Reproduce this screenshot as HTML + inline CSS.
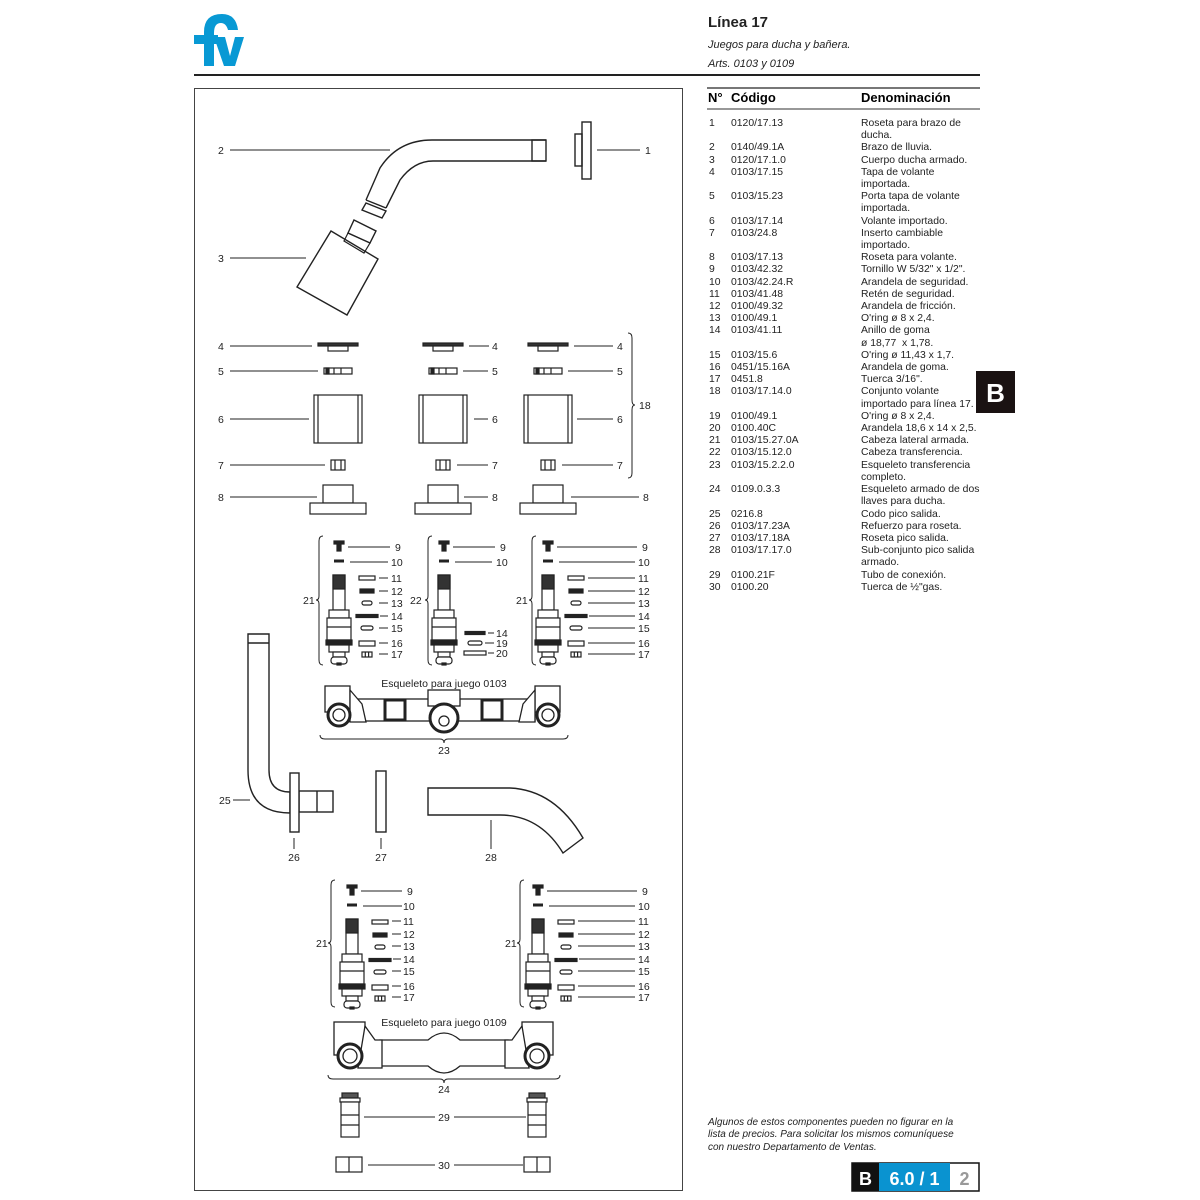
<!DOCTYPE html>
<html><head><meta charset="utf-8"><style>
html,body{margin:0;padding:0;background:#fff}
body{width:1200px;height:1200px;position:relative;overflow:hidden;font-family:"Liberation Sans",sans-serif;color:#222}
.col{position:absolute;top:118px;font-size:10.4px;line-height:12.2px;white-space:pre}
</style></head><body>
<svg width="1200" height="1200" style="position:absolute;left:0;top:0" font-family="Liberation Sans, sans-serif">
<defs>
<g id="valve" stroke="#222" stroke-width="1.2" fill="#fff">
<rect x="-5" y="-6" width="10" height="3" fill="#222"/>
<rect x="-2" y="-3" width="4" height="7" fill="#222"/>
<rect x="-5" y="12.5" width="10" height="3" fill="#222" stroke="none"/>
<rect x="-6" y="28" width="12" height="35"/>
<rect x="-6" y="28" width="12" height="14" fill="#333"/>
<rect x="-10" y="63" width="20" height="8"/>
<rect x="-12" y="71" width="24" height="22"/>
<line x1="-12" y1="80" x2="12" y2="80"/>
<rect x="-13" y="93" width="26" height="5" fill="#222"/>
<rect x="-10" y="98" width="20" height="7"/>
<rect x="-6" y="105" width="12" height="5"/>
<rect x="-8" y="110" width="16" height="7" rx="3"/>
<rect x="-2" y="116" width="4" height="2" fill="#222"/>
</g>
<g id="rings" stroke="#222" stroke-width="1.2" fill="#fff">
<rect x="20" y="29" width="16" height="4"/>
<rect x="21" y="42" width="14" height="4" fill="#222"/>
<rect x="23" y="54" width="10" height="4" rx="2"/>
<rect x="17" y="67.5" width="22" height="3" fill="#222"/>
<rect x="22" y="79" width="12" height="4" rx="2"/>
<rect x="20" y="94" width="16" height="5"/>
<rect x="23" y="105" width="10" height="5"/>
<line x1="26.3" y1="105" x2="26.3" y2="110"/><line x1="29.6" y1="105" x2="29.6" y2="110"/>
</g>
<g id="vol" stroke="#222" stroke-width="1.2" fill="#fff">
<rect x="-20" y="-3" width="40" height="3" fill="#333"/>
<rect x="-10" y="0" width="20" height="5"/>
<rect x="-14" y="22" width="28" height="6"/>
<rect x="-12" y="22" width="3" height="6" fill="#222"/>
<line x1="-4" y1="22" x2="-4" y2="28"/><line x1="3" y1="22" x2="3" y2="28"/>
<rect x="-24" y="49" width="48" height="48"/>
<line x1="-20" y1="49" x2="-20" y2="97"/><line x1="20" y1="49" x2="20" y2="97"/>
<rect x="-7" y="114" width="14" height="10"/>
<line x1="-3" y1="114" x2="-3" y2="124"/><line x1="3" y1="114" x2="3" y2="124"/>
<rect x="-15" y="139" width="30" height="18"/>
<rect x="-28" y="157" width="56" height="11"/>
</g>
<g id="c29" stroke="#222" stroke-width="1.2" fill="#fff">
<rect x="-8" y="0" width="16" height="5" fill="#555"/>
<rect x="-10" y="5" width="20" height="4"/>
<rect x="-9" y="9" width="18" height="35"/>
<line x1="-9" y1="22" x2="9" y2="22"/><line x1="-9" y1="32" x2="9" y2="32"/>
</g>
<g id="c30" stroke="#222" stroke-width="1.2" fill="#fff">
<rect x="-13" y="0" width="26" height="15"/>
<line x1="0" y1="0" x2="0" y2="15"/>
</g>
</defs>

<!-- logo -->
<g fill="#0899d4">
<path d="M204,66 L204,32 Q204,14 222,14 Q236,14 238,30 L228,30 Q226,23 221,23 Q214,23 214,33 L214,66 Z"/>
<rect x="194" y="35" width="24" height="9"/>
<path d="M214,37 L225,37 L230,56 L235,37 L244,37 L235,66 L224,66 Z"/>
</g>
<line x1="194" y1="75" x2="980" y2="75" stroke="#222" stroke-width="2"/>
<text x="708" y="27" font-size="15" font-weight="bold" fill="#222">Línea 17</text>
<text x="708" y="48" font-size="11" font-style="italic" fill="#222">Juegos para ducha y bañera.</text>
<text x="708" y="67" font-size="11" font-style="italic" fill="#222">Arts. 0103 y 0109</text>

<rect x="194.5" y="88.5" width="488" height="1102" fill="none" stroke="#444" stroke-width="1"/>

<line x1="707" y1="88" x2="980" y2="88" stroke="#777" stroke-width="2"/>
<line x1="707" y1="109" x2="980" y2="109" stroke="#777" stroke-width="1.5"/>
<text x="708" y="102" font-size="13" font-weight="bold">N°</text>
<text x="731" y="102" font-size="13" font-weight="bold">Código</text>
<text x="861" y="102" font-size="13" font-weight="bold">Denominación</text>

<rect x="976" y="371" width="39" height="42" fill="#1a1212"/>
<text x="995.5" y="402" font-size="26" font-weight="bold" fill="#fff" text-anchor="middle">B</text>

<text font-size="10" font-style="italic" fill="#222">
<tspan x="708" y="1125">Algunos de estos componentes pueden no figurar en la</tspan>
<tspan x="708" y="1137">lista de precios. Para solicitar los mismos comuníquese</tspan>
<tspan x="708" y="1150">con nuestro Departamento de Ventas.</tspan></text>
<rect x="852" y="1163" width="127" height="28" fill="#fff" stroke="#111" stroke-width="1.5"/>
<rect x="852" y="1163" width="27" height="28" fill="#111"/>
<rect x="879" y="1163" width="71" height="28" fill="#0a93d0"/>
<text x="865.5" y="1185" font-size="18" font-weight="bold" fill="#fff" text-anchor="middle">B</text>
<text x="914.5" y="1185" font-size="18" font-weight="bold" fill="#fff" text-anchor="middle">6.0 / 1</text>
<text x="964.5" y="1185" font-size="18" font-weight="bold" fill="#999" text-anchor="middle">2</text>

<g stroke="#222" stroke-width="1" fill="none">
<line x1="230" y1="150" x2="390" y2="150"/>
<path d="M546,140 L432,140 Q398,140 380,168 L366,200 M546,161 L433,161 Q414,161 400,180 L386,208" stroke-width="1.4"/>
<line x1="366" y1="200" x2="386" y2="208" stroke-width="1.4"/>
<rect x="532" y="140" width="14" height="21" stroke-width="1.4"/>
<path d="M366,203 L386,211 L382,218 L362,210 Z" stroke-width="1.4"/>
<rect x="582" y="122" width="9" height="57" stroke-width="1.4"/>
<rect x="575" y="134" width="7" height="32" stroke-width="1.4"/>
<line x1="597" y1="150" x2="640" y2="150"/>
<line x1="230" y1="258" x2="306" y2="258"/>
<path d="M331,231 L378,259 L347,315 L297,287 Z" stroke-width="1.4"/>
<path d="M354,220 L376,231 L370,243 L348,233 Z" stroke-width="1.4"/>
<path d="M348,233 L370,243 L364,253 L344,241 Z" stroke-width="1.2"/>
<line x1="230" y1="346" x2="312" y2="346"/>
<line x1="230" y1="371" x2="318" y2="371"/>
<line x1="230" y1="419" x2="309" y2="419"/>
<line x1="230" y1="465" x2="325" y2="465"/>
<line x1="230" y1="497" x2="317" y2="497"/>
<line x1="469" y1="346" x2="489" y2="346"/>
<line x1="463" y1="371" x2="488" y2="371"/>
<line x1="474" y1="419" x2="488" y2="419"/>
<line x1="457" y1="465" x2="488" y2="465"/>
<line x1="464" y1="497" x2="488" y2="497"/>
<line x1="574" y1="346" x2="613" y2="346"/>
<line x1="568" y1="371" x2="613" y2="371"/>
<line x1="577" y1="419" x2="613" y2="419"/>
<line x1="562" y1="465" x2="613" y2="465"/>
<line x1="571" y1="497" x2="639" y2="497"/>
<path d="M628,333 Q632,333 632,338 L632,400 Q632,405 635,405 Q632,405 632,410 L632,473 Q632,478 628,478"/>
</g>
<use href="#vol" x="338" y="346"/>
<use href="#vol" x="443" y="346"/>
<use href="#vol" x="548" y="346"/>

<use href="#valve" x="339" y="547"/><use href="#rings" x="339" y="547"/>
<use href="#valve" x="548" y="547"/><use href="#rings" x="548" y="547"/>
<use href="#valve" x="444" y="547"/>
<g stroke="#222" stroke-width="1.2" fill="#fff">
<rect x="465" y="631.5" width="20" height="3" fill="#222"/>
<rect x="468" y="641" width="14" height="4" rx="2"/>
<rect x="464" y="651" width="22" height="4"/>
</g>
<g stroke="#222" stroke-width="1" fill="none">
<line x1="348" y1="547" x2="390" y2="547"/><line x1="350" y1="562" x2="388" y2="562"/>
<line x1="379" y1="578" x2="388" y2="578"/><line x1="379" y1="591" x2="388" y2="591"/><line x1="379" y1="603" x2="388" y2="603"/>
<line x1="380" y1="616" x2="388" y2="616"/><line x1="379" y1="628" x2="388" y2="628"/><line x1="379" y1="643" x2="388" y2="643"/><line x1="379" y1="654" x2="388" y2="654"/>
<line x1="453" y1="547" x2="495" y2="547"/><line x1="455" y1="562" x2="492" y2="562"/>
<line x1="488" y1="633" x2="494" y2="633"/><line x1="485" y1="643" x2="494" y2="643"/><line x1="488" y1="653" x2="494" y2="653"/>
<line x1="557" y1="547" x2="637" y2="547"/><line x1="559" y1="562" x2="635" y2="562"/>
<line x1="588" y1="578" x2="635" y2="578"/><line x1="588" y1="591" x2="635" y2="591"/><line x1="588" y1="603" x2="635" y2="603"/>
<line x1="589" y1="616" x2="635" y2="616"/><line x1="588" y1="628" x2="635" y2="628"/><line x1="588" y1="643" x2="635" y2="643"/><line x1="588" y1="654" x2="635" y2="654"/>
<path d="M323,536 Q319,536 319,541 L319,596 Q319,600 316,600 Q319,600 319,604 L319,660 Q319,665 323,665"/>
<path d="M432,536 Q428,536 428,541 L428,596 Q428,600 425,600 Q428,600 428,604 L428,660 Q428,665 432,665"/>
<path d="M536,536 Q532,536 532,541 L532,596 Q532,600 529,600 Q532,600 532,604 L532,660 Q532,665 536,665"/>
</g>
<g font-size="10.5" fill="#222">
<text x="218" y="154">2</text><text x="645" y="154">1</text><text x="218" y="262">3</text>
<text x="218" y="350">4</text><text x="218" y="375">5</text><text x="218" y="423">6</text><text x="218" y="469">7</text><text x="218" y="501">8</text>
<text x="492" y="350">4</text><text x="492" y="375">5</text><text x="492" y="423">6</text><text x="492" y="469">7</text><text x="492" y="501">8</text>
<text x="617" y="350">4</text><text x="617" y="375">5</text><text x="617" y="423">6</text><text x="617" y="469">7</text><text x="643" y="501">8</text>
<text x="639" y="409">18</text>
<text x="395" y="551">9</text><text x="391" y="566">10</text><text x="391" y="582">11</text><text x="391" y="595">12</text><text x="391" y="607">13</text><text x="391" y="620">14</text><text x="391" y="632">15</text><text x="391" y="647">16</text><text x="391" y="658">17</text>
<text x="500" y="551">9</text><text x="496" y="566">10</text><text x="496" y="637">14</text><text x="496" y="647">19</text><text x="496" y="657">20</text>
<text x="642" y="551">9</text><text x="638" y="566">10</text><text x="638" y="582">11</text><text x="638" y="595">12</text><text x="638" y="607">13</text><text x="638" y="620">14</text><text x="638" y="632">15</text><text x="638" y="647">16</text><text x="638" y="658">17</text>
<text x="303" y="604">21</text><text x="410" y="604">22</text><text x="516" y="604">21</text>
<text x="444" y="687" text-anchor="middle">Esqueleto para juego 0103</text>
<text x="444" y="754" text-anchor="middle">23</text>
<text x="219" y="804">25</text><text x="294" y="861" text-anchor="middle">26</text><text x="381" y="861" text-anchor="middle">27</text><text x="491" y="861" text-anchor="middle">28</text>
</g>

<g stroke="#222" stroke-width="1.3" fill="#fff">
<rect x="350" y="699" width="185" height="22"/>
<rect x="385" y="700" width="20" height="20" stroke-width="3"/>
<rect x="482" y="700" width="20" height="20" stroke-width="3"/>
<rect x="325" y="686" width="25" height="26"/>
<path d="M350,690 L362,704 L366,722 L350,722 Z"/>
<rect x="535" y="686" width="25" height="26"/>
<path d="M535,690 L523,704 L519,722 L535,722 Z"/>
<circle cx="339" cy="715" r="11" stroke-width="3"/><circle cx="339" cy="715" r="6"/>
<circle cx="548" cy="715" r="11" stroke-width="3"/><circle cx="548" cy="715" r="6"/>
<rect x="428" y="690" width="32" height="16"/>
<circle cx="444" cy="718" r="14" stroke-width="3"/><circle cx="444" cy="721" r="5"/>
</g>
<path d="M320,735 Q320,739 325,739 L440,739 Q444,739 444,743 Q444,739 448,739 L563,739 Q568,739 568,735" stroke="#222" fill="none"/>

<g stroke="#222" stroke-width="1.4" fill="#fff">
<path d="M248,634 L248,770 Q248,813 290,813 L290,792 Q269,792 269,770 L269,634 Z"/>
<line x1="248" y1="643" x2="269" y2="643"/>
<rect x="299" y="791" width="34" height="21"/><line x1="317" y1="791" x2="317" y2="812"/>
<rect x="290" y="773" width="9" height="59"/>
<rect x="376" y="771" width="10" height="61"/>
<path d="M428,788 L510,788 Q555,790 583,838 L563,853 Q540,815 500,815 L428,815 Z"/>
</g>
<g stroke="#222" stroke-width="1"><line x1="233" y1="800" x2="250" y2="800"/><line x1="294" y1="838" x2="294" y2="849"/><line x1="381" y1="838" x2="381" y2="849"/><line x1="491" y1="820" x2="491" y2="849"/></g>

<use href="#valve" x="352" y="891"/><use href="#rings" x="352" y="891"/>
<use href="#valve" x="538" y="891"/><use href="#rings" x="538" y="891"/>
<g stroke="#222" stroke-width="1" fill="none">
<line x1="361" y1="891" x2="402" y2="891"/><line x1="363" y1="906" x2="402" y2="906"/>
<line x1="392" y1="921" x2="401" y2="921"/><line x1="392" y1="934" x2="401" y2="934"/><line x1="392" y1="946" x2="401" y2="946"/><line x1="393" y1="959" x2="401" y2="959"/><line x1="392" y1="971" x2="401" y2="971"/><line x1="392" y1="986" x2="401" y2="986"/><line x1="392" y1="997" x2="401" y2="997"/>
<line x1="547" y1="891" x2="637" y2="891"/><line x1="549" y1="906" x2="635" y2="906"/>
<line x1="578" y1="921" x2="635" y2="921"/><line x1="578" y1="934" x2="635" y2="934"/><line x1="578" y1="946" x2="635" y2="946"/><line x1="579" y1="959" x2="635" y2="959"/><line x1="578" y1="971" x2="635" y2="971"/><line x1="578" y1="986" x2="635" y2="986"/><line x1="578" y1="997" x2="635" y2="997"/>
<path d="M335,880 Q331,880 331,885 L331,939 Q331,943 328,943 Q331,943 331,947 L331,1002 Q331,1007 335,1007"/>
<path d="M524,880 Q520,880 520,885 L520,939 Q520,943 517,943 Q520,943 520,947 L520,1002 Q520,1007 524,1007"/>
<path d="M328,1075 Q328,1079 333,1079 L440,1079 Q444,1079 444,1083 Q444,1079 448,1079 L555,1079 Q560,1079 560,1075"/>
<line x1="364" y1="1117" x2="435" y2="1117"/><line x1="454" y1="1117" x2="526" y2="1117"/>
<line x1="368" y1="1165" x2="435" y2="1165"/><line x1="454" y1="1165" x2="523" y2="1165"/>
</g>
<g font-size="10.5" fill="#222">
<text x="407" y="895">9</text><text x="403" y="910">10</text><text x="403" y="925">11</text><text x="403" y="938">12</text><text x="403" y="950">13</text><text x="403" y="963">14</text><text x="403" y="975">15</text><text x="403" y="990">16</text><text x="403" y="1001">17</text>
<text x="642" y="895">9</text><text x="638" y="910">10</text><text x="638" y="925">11</text><text x="638" y="938">12</text><text x="638" y="950">13</text><text x="638" y="963">14</text><text x="638" y="975">15</text><text x="638" y="990">16</text><text x="638" y="1001">17</text>
<text x="316" y="947">21</text><text x="505" y="947">21</text>
<text x="444" y="1026" text-anchor="middle">Esqueleto para juego 0109</text>
<text x="444" y="1093" text-anchor="middle">24</text>
<text x="444" y="1121" text-anchor="middle">29</text>
<text x="444" y="1169" text-anchor="middle">30</text>
</g>
<g stroke="#222" stroke-width="1.3" fill="#fff">
<path d="M380,1040 L428,1040 Q444,1026 460,1040 L508,1040 L508,1066 L460,1066 Q444,1080 428,1066 L380,1066 Z"/>
<rect x="334" y="1022" width="31" height="33"/>
<path d="M365,1026 L375,1040 L382,1040 L382,1068 L358,1068 Z"/>
<rect x="522" y="1022" width="31" height="33"/>
<path d="M522,1026 L512,1040 L505,1040 L505,1068 L529,1068 Z"/>
<circle cx="350" cy="1056" r="12" stroke-width="3"/><circle cx="350" cy="1056" r="7"/>
<circle cx="537" cy="1056" r="12" stroke-width="3"/><circle cx="537" cy="1056" r="7"/>
</g>
<use href="#c29" x="350" y="1093"/><use href="#c29" x="537" y="1093"/>
<use href="#c30" x="349" y="1157"/><use href="#c30" x="537" y="1157"/>
</svg>

<div class="col" style="left:709px">1

2
3
4

5

6
7

8
9
10
11
12
13
14

15
16
17
18

19
20
21
22
23

24

25
26
27
28

29
30</div>
<div class="col" style="left:731px">0120/17.13

0140/49.1A
0120/17.1.0
0103/17.15

0103/15.23

0103/17.14
0103/24.8

0103/17.13
0103/42.32
0103/42.24.R
0103/41.48
0100/49.32
0100/49.1
0103/41.11

0103/15.6
0451/15.16A
0451.8
0103/17.14.0

0100/49.1
0100.40C
0103/15.27.0A
0103/15.12.0
0103/15.2.2.0

0109.0.3.3

0216.8
0103/17.23A
0103/17.18A
0103/17.17.0

0100.21F
0100.20</div>
<div class="col" style="left:861px">Roseta para brazo de
ducha.
Brazo de lluvia.
Cuerpo ducha armado.
Tapa de volante
importada.
Porta tapa de volante
importada.
Volante importado.
Inserto cambiable
importado.
Roseta para volante.
Tornillo W 5/32" x 1/2".
Arandela de seguridad.
Retén de seguridad.
Arandela de fricción.
O'ring ø 8 x 2,4.
Anillo de goma
ø 18,77  x 1,78.
O'ring ø 11,43 x 1,7.
Arandela de goma.
Tuerca 3/16".
Conjunto volante
importado para línea 17.
O'ring ø 8 x 2,4.
Arandela 18,6 x 14 x 2,5.
Cabeza lateral armada.
Cabeza transferencia.
Esqueleto transferencia
completo.
Esqueleto armado de dos
llaves para ducha.
Codo pico salida.
Refuerzo para roseta.
Roseta pico salida.
Sub-conjunto pico salida
armado.
Tubo de conexión.
Tuerca de ½"gas.</div>
</body></html>
